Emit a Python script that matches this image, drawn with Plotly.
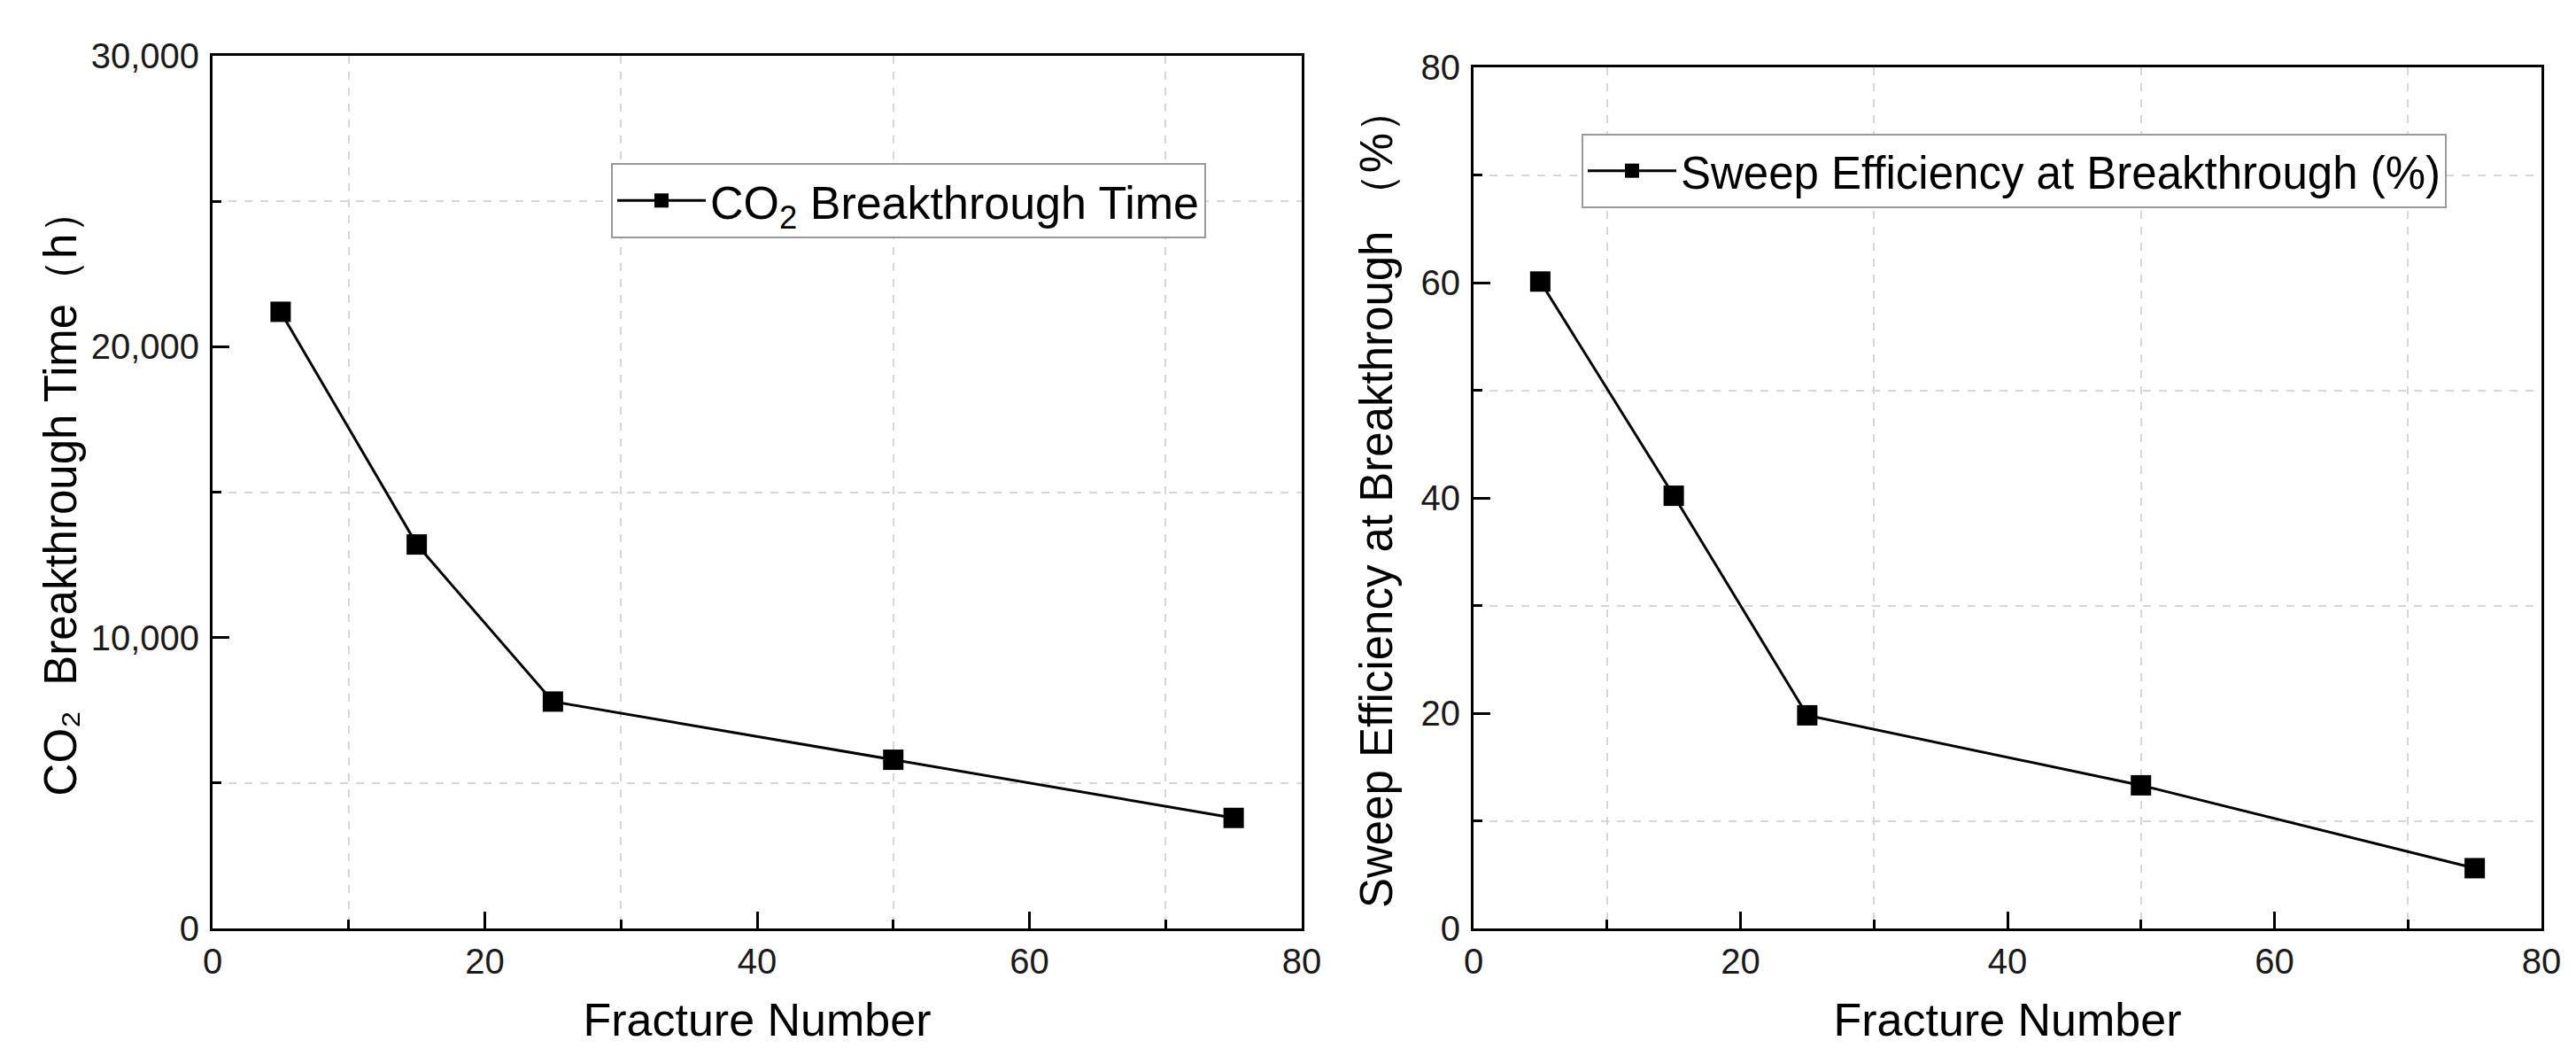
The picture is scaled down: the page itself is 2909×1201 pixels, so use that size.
import plotly.graph_objects as go

fracture_number = [5, 15, 25, 50, 75]
breakthrough_time_h = [21200, 13200, 7800, 5800, 3800]
sweep_efficiency_pct = [60.1, 40.2, 19.8, 13.3, 5.6]

left_legend_name = "CO<sub>2</sub> Breakthrough Time"
right_legend_name = "Sweep Efficiency at Breakthrough (%)"
left_ytitle = "CO₂  Breakthrough Time（h）"
right_ytitle = "Sweep Efficiency at Breakthrough （%）"
xtitle = "Fracture Number"

W, H = 2909, 1201
FONT = "Liberation Sans, Arial, sans-serif"

fig = go.Figure()
fig.add_trace(go.Scatter(
    x=fracture_number, y=breakthrough_time_h, mode="lines+markers",
    name=left_legend_name, xaxis="x", yaxis="y", legend="legend",
    line=dict(color="black", width=3),
    marker=dict(symbol="square", size=23, color="black"),
))
fig.add_trace(go.Scatter(
    x=fracture_number, y=sweep_efficiency_pct, mode="lines+markers",
    name=right_legend_name, xaxis="x2", yaxis="y2", legend="legend2",
    line=dict(color="black", width=3),
    marker=dict(symbol="square", size=23, color="black"),
))

def ax_common(**kw):
    d = dict(
        showline=True, linecolor="black", linewidth=3, mirror=True,
        ticks="inside", ticklen=19, tickwidth=3, tickcolor="black",
        showgrid=False, zeroline=False, automargin=False,
        tickfont=dict(family=FONT, size=40, color="#1a1a1a"),
        minor=dict(ticks="inside", ticklen=10, tickwidth=3, tickcolor="black",
                   showgrid=True, gridcolor="#d6d6d6", griddash="dash", gridwidth=1.5),
    )
    d.update(kw)
    return d

fig.update_layout(
    width=W, height=H,
    margin=dict(l=0, r=0, t=0, b=0),
    paper_bgcolor="white", plot_bgcolor="white",
    font=dict(family=FONT, color="black"),
    xaxis=ax_common(domain=[232 / W, 1462 / W], range=[0, 80], dtick=20, tick0=0,
                    anchor="y", minor_dtick=10, ticklabelstandoff=0,
                    title=dict(text=xtitle, font=dict(family=FONT, size=52), standoff=27)),
    yaxis=ax_common(domain=[1 - 1040 / H, 1 - 55 / H], range=[0, 30000], dtick=10000, tick0=0,
                    anchor="x", minor_dtick=5000, tickformat=",", ticklabelstandoff=4,
                    title=dict(text=left_ytitle, font=dict(family=FONT, size=51), standoff=0)),
    xaxis2=ax_common(domain=[1656 / W, 2862 / W], range=[0, 80], dtick=20, tick0=0,
                     anchor="y2", minor_dtick=10, ticklabelstandoff=0,
                     title=dict(text=xtitle, font=dict(family=FONT, size=52), standoff=27)),
    yaxis2=ax_common(domain=[1 - 1040 / H, 1 - 68 / H], range=[0, 80], dtick=20, tick0=0,
                     anchor="x2", minor_dtick=10, ticklabelstandoff=4,
                     title=dict(text=right_ytitle, font=dict(family=FONT, size=51), standoff=16)),
    legend=dict(x=682 / W, y=1 - 176 / H, xanchor="left", yanchor="top",
                bgcolor="white", bordercolor="#999999", borderwidth=2, itemwidth=100,
                font=dict(family=FONT, size=52, color="black")),
    legend2=dict(x=1778 / W, y=1 - 143 / H, xanchor="left", yanchor="top",
                 bgcolor="white", bordercolor="#999999", borderwidth=2, itemwidth=100,
                 font=dict(family=FONT, size=51, color="black")),
    showlegend=True,
)

fig.write_html("out.html")
